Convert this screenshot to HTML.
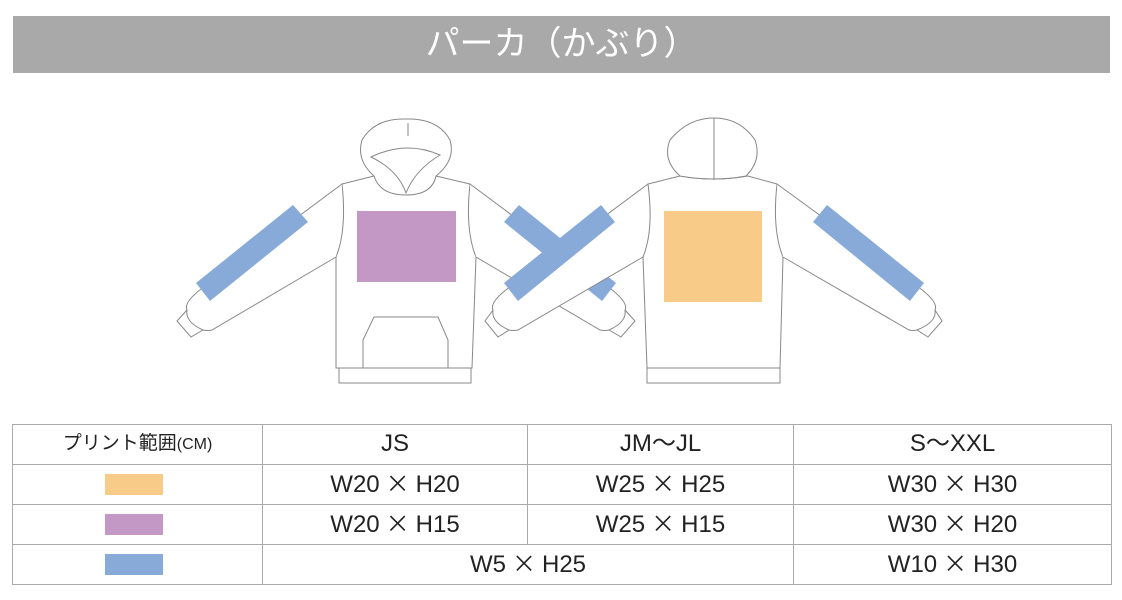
<!DOCTYPE html>
<html><head><meta charset="utf-8"><style>
body{margin:0;width:1122px;height:600px;background:#fff;overflow:hidden;font-family:"Liberation Sans","Noto Sans CJK JP",sans-serif;}
.title{position:absolute;left:13px;top:16px;width:1097px;height:57px;background:#a9a9a9;color:#fff;font-size:34px;line-height:57px;text-align:center;}
table{position:absolute;left:12px;top:424px;border-collapse:collapse;}
td{border:1px solid #aaa;height:40px;padding:0 0 1px 0;box-sizing:border-box;text-align:center;font-size:24px;line-height:24px;color:#222;}
.sw{display:inline-block;width:58px;height:21px;vertical-align:middle;margin-right:8px;}
.x{font-family:"Noto Sans CJK JP",sans-serif;font-size:24px;line-height:20px;padding:0 6px;}
</style></head><body>
<div class="title">パーカ（かぶり）</div>
<svg style="position:absolute;left:0;top:0" width="1122" height="600" fill="#fff" stroke="#888" stroke-width="1">
<path d="M342,184 L374,176 L436,176 L470,184 Q465,230 476,257 L472,368 L336,368 L336,257 Q347,230 342,184Z"/>
<rect x="339" y="368" width="132" height="15"/>
<path d="M374,176 Q356,160 362,140 Q375,118 406,119 Q438,118 450,140 Q456,160 436,176 Q432,195 406,195 Q380,195 374,176Z"/>
<path d="M371,157 Q406,140 440,155 Q415,170 406,193 Q398,170 371,157Z"/>
<line x1="408" y1="123" x2="408" y2="136"/>
<path d="M374,317 L438,317 L448,340 L448,368 L363,368 L363,340Z"/>
<rect x="357" y="211" width="99" height="71" fill="#c498c4" stroke="none"/>
<path d="M342,184 L205,286 Q183,302 187,310 L177,321 L191,337 L203,330 Q207,331 212,330 L336,257"/>
<path d="M187,310 Q185,322 203,330" fill="none"/>
<polygon points="196,283 293,205 308,222 210,301" fill="#88aad8" stroke="none"/>
<path d="M470,184 L607,286 Q629,302 625,310 L635,321 L621,337 L609,330 Q605,331 600,330 L476,257"/>
<path d="M625,310 Q627,322 609,330" fill="none"/>
<polygon points="616,283 519,205 504,222 602,301" fill="#88aad8" stroke="none"/>
<path d="M648,184 L511,286 Q489,302 493,310 L485,321 L498,337 L509,330 Q513,331 518,330 L643,257"/>
<path d="M493,310 Q491,322 509,330" fill="none"/>
<polygon points="615,222 601,205 504,283 518,301" fill="#88aad8" stroke="none"/>
<path d="M648,184 L680,176 Q714,182 748,176 L777,184 Q772,230 783,257 L780,368 L647,368 L643,257 Q654,230 648,184Z"/>
<rect x="647" y="368" width="133" height="15"/>
<path d="M680,176 Q662,160 670,140 Q688,118 714,118 Q740,118 755,140 Q762,160 746,176 Q714,182 680,176Z"/>
<line x1="714" y1="118" x2="714" y2="180"/>
<rect x="664" y="211" width="98" height="91" fill="#f8cc88" stroke="none"/>
<path d="M777,184 L917,286 Q939,302 935,310 L942,321 L928,337 L917,330 Q913,331 909,330 L783,257"/>
<path d="M935,310 Q937,322 917,330" fill="none"/>
<polygon points="813,222 827,205 924,283 910,301" fill="#88aad8" stroke="none"/>
</svg>
<table>
<tr><td style="width:250px;font-size:19px">プリント範囲<span style="font-size:16px">(CM)</span></td><td style="width:265px">JS</td><td style="width:266px">JM～JL</td><td style="width:318px">S～XXL</td></tr>
<tr><td><span class="sw" style="background:#f8cc88"></span></td><td>W20<span class="x">×</span>H20</td><td>W25<span class="x">×</span>H25</td><td>W30<span class="x">×</span>H30</td></tr>
<tr><td><span class="sw" style="background:#c498c4"></span></td><td>W20<span class="x">×</span>H15</td><td>W25<span class="x">×</span>H15</td><td>W30<span class="x">×</span>H20</td></tr>
<tr><td><span class="sw" style="background:#88aad8"></span></td><td colspan="2">W5<span class="x">×</span>H25</td><td>W10<span class="x">×</span>H30</td></tr>
</table>
</body></html>
